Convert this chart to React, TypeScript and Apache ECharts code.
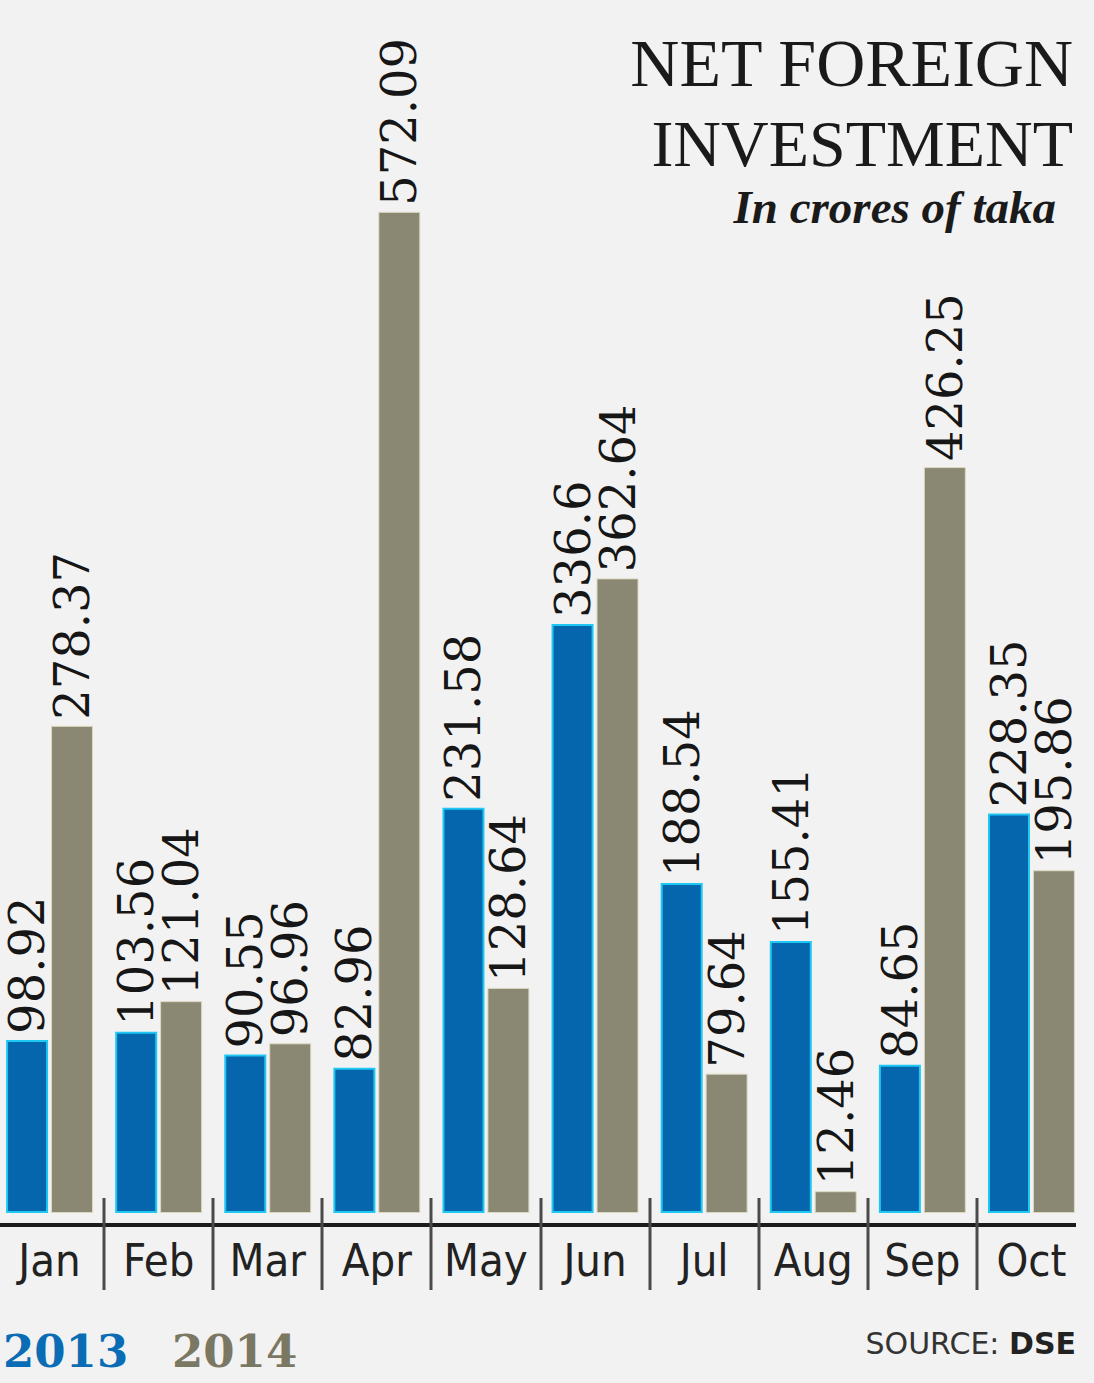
import React, { useEffect, useRef } from 'react';
import * as echarts from 'echarts';

const months = ['Jan', 'Feb', 'Mar', 'Apr', 'May', 'Jun', 'Jul', 'Aug', 'Sep', 'Oct'];
const values2013 = [98.92, 103.56, 90.55, 82.96, 231.58, 336.6, 188.54, 155.41, 84.65, 228.35];
const values2014 = [278.37, 121.04, 96.96, 572.09, 128.64, 362.64, 79.64, 12.46, 426.25, 195.86];
const seriesNames = ['2013', '2014'];
const titleLines = ['NET FOREIGN', 'INVESTMENT'];
const subtitle = 'In crores of taka';
const sourceLabel = 'SOURCE: ';
const sourceName = 'DSE';

const BLUE = '#0565ad';
const GRAY = '#8a8773';
const BG = '#f2f2f2';

export default function App() {
  const ref = useRef<HTMLDivElement>(null);
  useEffect(() => {
    if (!ref.current) return;
    const chart = echarts.init(ref.current, null, { renderer: 'svg' });
    const valueLabel = {
      show: true,
      position: 'top',
      rotate: 90,
      align: 'left',
      verticalAlign: 'middle',
      distance: 6,
      fontFamily: 'DejaVu Serif',
      fontSize: 48,
      lineHeight: 38,
      color: '#161616',
      formatter: (p: any) => String(p.value),
    };
    chart.setOption({
      animation: false,
      backgroundColor: BG,
      grid: { left: -5, width: 1091, top: 163, height: 1050, outerBoundsMode: 'none', containLabel: false },
      xAxis: {
        type: 'category',
        data: months,
        axisLine: { show: false },
        axisTick: { show: false },
        axisLabel: {
          interval: 0,
          margin: 25,
          fontFamily: '"DejaVu Sans Condensed", "Liberation Sans Narrow", "Roboto Condensed", sans-serif',
          fontSize: 45,
          color: '#222',
        },
      },
      yAxis: {
        type: 'value',
        min: 0,
        max: 600,
        show: false,
        splitLine: { show: false },
      },
      series: [
        {
          name: seriesNames[0],
          type: 'bar',
          data: values2013,
          barWidth: 42,
          barGap: '7%',
          itemStyle: { color: BLUE, borderColor: '#1ec8f2', borderWidth: 2 },
          label: valueLabel,
        },
        {
          name: seriesNames[1],
          type: 'bar',
          data: values2014,
          barWidth: 42,
          itemStyle: { color: GRAY, borderColor: '#dcd8c0', borderWidth: 1 },
          label: valueLabel,
        },
      ],
    });

    const base = chart.convertToPixel({ yAxisIndex: 0 }, 0) as number;
    const elements: any[] = [];
    const first = chart.convertToPixel({ xAxisIndex: 0 }, months[0]) as number;
    const last = chart.convertToPixel({ xAxisIndex: 0 }, months[months.length - 1]) as number;
    const band = (last - first) / (months.length - 1);
    elements.push({
      type: 'line',
      shape: { x1: 0, y1: base + 12, x2: last + band / 2 - 10, y2: base + 12 },
      style: { stroke: '#1c1c1c', lineWidth: 4 },
    });
    for (let i = 1; i < months.length; i++) {
      const a = chart.convertToPixel({ xAxisIndex: 0 }, months[i - 1]) as number;
      const b = chart.convertToPixel({ xAxisIndex: 0 }, months[i]) as number;
      const x = Math.round((a + b) / 2);
      elements.push({
        type: 'line',
        shape: { x1: x, y1: base - 15, x2: x, y2: base + 77 },
        style: { stroke: '#4a4a4a', lineWidth: 3 },
      });
    }
    elements.push(
      {
        type: 'text',
        x: 1073,
        y: 63,
        style: {
          text: titleLines[0],
          fill: '#1a1a1a',
          fontFamily: 'Liberation Serif',
          fontSize: 68,
          textAlign: 'right',
          textVerticalAlign: 'middle',
        },
      },
      {
        type: 'text',
        x: 1073,
        y: 143,
        style: {
          text: titleLines[1],
          fill: '#1a1a1a',
          fontFamily: 'Liberation Serif',
          fontSize: 66,
          textAlign: 'right',
          textVerticalAlign: 'middle',
        },
      },
      {
        type: 'text',
        x: 1056,
        y: 207,
        style: {
          text: subtitle,
          fill: '#1a1a1a',
          fontFamily: 'Liberation Serif',
          fontSize: 47,
          fontWeight: 'bold',
          fontStyle: 'italic',
          textAlign: 'right',
          textVerticalAlign: 'middle',
        },
      },
      {
        type: 'text',
        x: 3,
        y: 1351,
        style: {
          text: seriesNames[0],
          fill: '#0a6cb4',
          fontFamily: 'DejaVu Serif',
          fontSize: 45,
          fontWeight: 'bold',
          textAlign: 'left',
          textVerticalAlign: 'middle',
        },
      },
      {
        type: 'text',
        x: 172,
        y: 1351,
        style: {
          text: seriesNames[1],
          fill: '#7a7762',
          fontFamily: 'DejaVu Serif',
          fontSize: 45,
          fontWeight: 'bold',
          textAlign: 'left',
          textVerticalAlign: 'middle',
        },
      },
      {
        type: 'text',
        x: 1076,
        y: 1343,
        style: {
          text: '{a|' + sourceLabel + '}{b|' + sourceName + '}',
          textAlign: 'right',
          textVerticalAlign: 'middle',
          rich: {
            a: { fontFamily: 'DejaVu Sans', fontSize: 30, color: '#333', fill: '#333' },
            b: { fontFamily: 'DejaVu Sans', fontSize: 30, fontWeight: 'bold', color: '#222', fill: '#222' },
          },
        },
      }
    );
    chart.setOption({ graphic: { elements } });
    return () => chart.dispose();
  }, []);
  return (
    <div
      ref={ref}
      style={{ position: 'absolute', left: 0, top: 0, width: 1094, height: 1383 }}
    />
  );
}
